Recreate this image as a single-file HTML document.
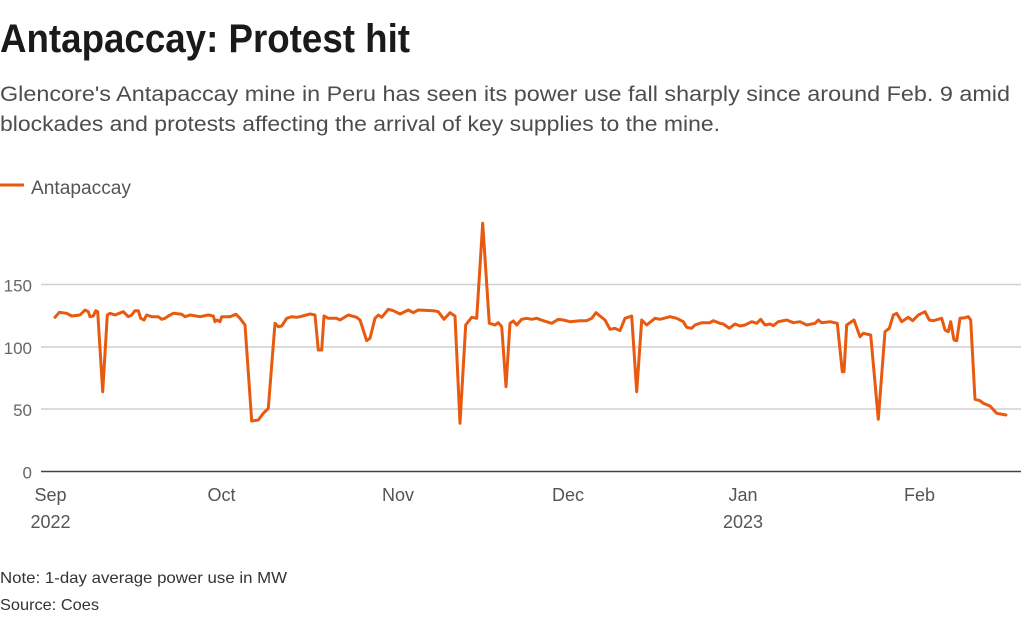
<!DOCTYPE html>
<html>
<head>
<meta charset="utf-8">
<style>
  html,body{margin:0;padding:0;background:#fff;}
  svg{display:block;}
  text{font-family:"Liberation Sans",Arial,sans-serif;}
</style>
</head>
<body>
<svg width="1024" height="621" viewBox="0 0 1024 621" xmlns="http://www.w3.org/2000/svg">
  <rect x="0" y="0" width="1024" height="621" fill="#fff"/>
  <!-- Title -->
  <text x="0" y="52" font-size="40" font-weight="bold" fill="#1a1a1a" textLength="410" lengthAdjust="spacingAndGlyphs">Antapaccay: Protest hit</text>
  <!-- Subtitle -->
  <text x="0" y="101" font-size="21" fill="#4d4d4d" textLength="1010" lengthAdjust="spacingAndGlyphs">Glencore's Antapaccay mine in Peru has seen its power use fall sharply since around Feb. 9 amid</text>
  <text x="0" y="131" font-size="21" fill="#4d4d4d" textLength="720" lengthAdjust="spacingAndGlyphs">blockades and protests affecting the arrival of key supplies to the mine.</text>
  <!-- Legend -->
  <line x1="0" y1="185" x2="24" y2="185" stroke="#e85a0f" stroke-width="3"/>
  <text x="31" y="194" font-size="19" fill="#555" textLength="100" lengthAdjust="spacingAndGlyphs">Antapaccay</text>

  <!-- Gridlines -->
  <g stroke="#d0d0d0" stroke-width="1.5">
    <line x1="41" y1="284.5" x2="1021" y2="284.5"/>
    <line x1="41" y1="347" x2="1021" y2="347"/>
    <line x1="41" y1="409" x2="1021" y2="409"/>
  </g>
  <line x1="41" y1="471.5" x2="1021" y2="471.5" stroke="#444" stroke-width="1.6"/>

  <!-- Y labels -->
  <g font-size="17" fill="#666" text-anchor="end">
    <text x="32" y="291.5">150</text>
    <text x="32" y="354">100</text>
    <text x="32" y="416">50</text>
    <text x="32" y="478.5">0</text>
  </g>

  <!-- X labels -->
  <g font-size="18" fill="#555" text-anchor="middle">
    <text x="50.5" y="501">Sep</text>
    <text x="50.5" y="528">2022</text>
    <text x="221.5" y="501">Oct</text>
    <text x="398" y="501">Nov</text>
    <text x="568" y="501">Dec</text>
    <text x="743" y="501">Jan</text>
    <text x="743" y="528">2023</text>
    <text x="919.5" y="501">Feb</text>
  </g>

  <!-- Data line -->
  <polyline fill="none" stroke="#e85a0f" stroke-width="3" stroke-linejoin="round" stroke-linecap="round" points="
55,317.3 59.3,312.3 66.7,313.3 71.7,316 80,315 85,310 88.3,311.7 90,316.7 93.3,316 95.7,310.7 97.7,311.7
102.7,391.7 107.3,315 110,313.3 115,315 123.3,311.7 128.3,316.7 131.7,315 135,310.7 138.3,310.7 140.7,318.3
144,320 146.7,315 151.7,316.7 158.3,316.7 161.7,319.3 165,318.3 168.3,316 173.3,313.3 181.7,314.3 185,316.7
190,315 200,316.7 208.3,315 213.3,316 215,321.7 216.7,320 220,321.7 221.7,316.7 230,316.7 236,314.3 240,318.3
245,325 251.7,421 258.3,420 263.3,413.3 266.7,410 268.3,408.3 275,323.3 278.3,326.7 281.7,326 286.7,318.3
291.7,316.7 296.7,317.3 300,316.7 310,314 315,315 318.3,350 321.7,350 324,316 328.3,318.3 336.7,318.3
340,320 348.3,315 356.7,317.3 360,320 366.7,340.7 370,338.3 375,318.3 378.3,315 381.7,317.3 388.3,309.3
393.3,310.7 400,314 408.3,310 413.3,312.7 418.3,310 433.3,310.7 438.3,311.7 444,319.3 450,312.7 455,316
460,423.3 465.7,325 471.7,317.3 476.7,318.3 482.7,223.3 489.3,323.3 495,325 498.3,322.7 501.7,326.7
506,386.7 510,323.3 513.3,321 516.7,325 521.7,319.3 526.7,318.3 531.7,319.3 536.7,318.3 543.3,320.7
551.7,323.3 558.3,319.3 563.3,320 570,321.7 580,320.7 586.7,320.7 591.7,318.3 596,312.7 600,316 605,320
610,329.3 615,328.3 620,330.7 625,318.3 631.7,316 636.7,391.7 641.7,320 646.7,325 655,318.3 660,319.3
670,316.7 676.7,318.3 683.3,321.7 686.7,327.3 691.7,328.3 695,325 701.7,322.7 710,322.7 713.3,320.7
720,323.3 723.3,324 729.3,328.3 735,324 740,326 745,325 751.7,321.7 756.7,323.3 760.7,319.3 765,325
770,324 773.3,325.7 778.3,321.7 786.7,320 793.3,322.7 800,321.7 806.7,325 815,323.3 818.3,320 821.7,322.7
830,321.7 837.3,323.3 842.3,371.7 844,371.7 846.7,325 854,320 860,336.7 863.3,333.3 870.7,335 878.3,419.3
885,331.7 889.3,328.3 893.3,315 896.7,313.3 901.7,321.7 908.3,317.3 912.7,320.7 918.3,315 925,311.7
929.3,320 933.3,320.7 941.7,318.3 945,330 948.3,331.7 950.7,321.7 954,340 956.7,340.7 960,318.3 965,317.7
968.3,316.7 970.7,320 975,399.3 980,400.7 983.3,403.3 990,406 996.7,413.3 1006,415"/>

  <!-- Notes -->
  <text x="0" y="583" font-size="16" fill="#333" textLength="287" lengthAdjust="spacingAndGlyphs">Note: 1-day average power use in MW</text>
  <text x="0" y="610" font-size="16" fill="#333" textLength="99" lengthAdjust="spacingAndGlyphs">Source: Coes</text>
</svg>
</body>
</html>
